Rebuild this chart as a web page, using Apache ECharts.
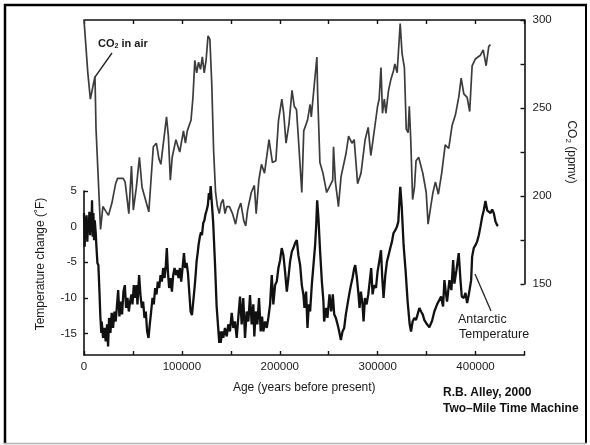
<!DOCTYPE html>
<html>
<head>
<meta charset="utf-8">
<title>Vostok CO2 and temperature</title>
<script src="https://cdn.jsdelivr.net/npm/echarts@6/dist/echarts.min.js"></script>
<style>
  html, body { margin: 0; padding: 0; background: #fff; }
  #chart { width: 590px; height: 445px; }
</style>
</head>
<body>
<div id="chart"></div>
<script>
// age in thousand years before present
const tempAgeKyr = [
  0, 0.7, 1.4, 2.0, 2.7, 3.4, 4.1, 4.8, 5.5, 6.2, 6.8, 7.5, 8.2, 8.9, 9.6, 10.3, 11.0, 12.0, 12.7, 13.7,
  14.7, 15.7, 16.7, 17.7, 18.1, 19.5, 20.8, 22.2, 23.6, 24.6, 25.6, 27.0, 28.3, 29.7, 31.1, 32.4, 34.9, 36.2,
  37.6, 38.9, 40.3, 41.7, 43.0, 44.4, 45.8, 47.1, 48.5, 49.5, 50.9, 52.2, 53.6, 54.6, 56.3, 57.7, 59.1, 60.4,
  61.8, 63.1, 64.5, 65.9, 67.2, 68.6, 70.0, 71.3, 72.7, 74.1, 75.4, 76.8, 78.2, 79.5, 80.9, 82.3, 83.6, 84.6,
  85.7, 87.0, 88.4, 89.8, 91.1, 92.5, 93.9, 95.2, 96.6, 98.0, 99.3, 100.7, 102.1, 103.4, 104.8, 106.2, 107.5,
  108.9, 110.3, 111.6, 113.0, 114.2, 115.0, 116.2, 117.1, 118.4, 119.5, 120.5, 121.8, 123.0, 124.2, 125.3,
  126.5, 127.6, 128.5, 129.4, 130.4, 132.0, 133.8, 135.5, 137.2, 138.2, 138.6, 139.6, 141.2, 142.3, 144.0,
  145.8, 147.4, 149.1, 150.9, 152.5, 154.2, 156.0, 157.6, 159.4, 161.1, 162.7, 164.5, 166.2, 167.9, 169.6,
  171.3, 173.0, 174.0, 175.4, 177.1, 178.8, 180.5, 181.9, 183.2, 185.0, 186.7, 188.3, 190.1, 191.8, 193.4,
  195.2, 196.9, 198.6, 200.3, 202.0, 203.7, 205.4, 207.2, 208.8, 210.5, 212.3, 213.9, 215.7, 217.4, 219.0,
  220.8, 222.5, 224.2, 225.2, 226.9, 228.3, 229.7, 231.0, 232.7, 234.4, 236.1, 237.2, 238.2, 239.5, 241.2,
  243.0, 244.6, 245.3, 247.4, 248.7, 250.8, 252.5, 254.2, 255.6, 257.3, 259.0, 260.7, 262.4, 264.1, 265.8,
  267.5, 269.2, 270.9, 272.7, 274.3, 276.1, 277.1, 278.8, 280.4, 281.5, 282.9, 284.5, 285.6, 287.0, 288.7,
  290.4, 293.4, 294.8, 296.5, 298.3, 299.9, 301.6, 303.4, 304.7, 306.0, 307.8, 309.5, 311.1, 312.9, 314.6,
  316.2, 318.0, 319.7, 321.1, 322.4, 323.1, 324.5, 326.5, 328.6, 330.6, 332.7, 334.1, 335.7, 337.5, 339.2,
  340.8, 342.6, 344.3, 346.0, 347.7, 350.4, 352.8, 355.6, 357.9, 359.0, 360.7, 362.3, 364.8, 366.8, 368.2,
  369.5, 370.9, 373.3, 375.3, 377.1, 378.4, 380.5, 382.8, 384.6, 385.9, 388.0, 389.7, 391.4, 393.0, 395.5,
  396.5, 398.2, 399.9, 401.6, 403.3, 405.0, 406.8, 408.4, 410.1, 411.9, 413.5, 415.3, 417.0, 418.6, 420.4,
  422.1, 423.1
];
// temperature change, degrees F
const tempVal = [
  1.9, -2.8, 1.4, -1.4, 1.6, -2.1, 0.9, -0.5, 2.1, -1.2, 1.2, -0.7, 3.7, -1.4, 1.9, -1.9, 0.9, -0.9, -2.8, -5.1,
  -5.4, -8.8, -12.6, -14.9, -13.3, -15.6, -14.2, -16.1, -13.7, -16.8, -12.8, -14.9, -12.1, -14.2, -11.9, -13.3, -8.9, -12.6,
  -10.5, -12.3, -9.1, -8.2, -11.4, -10.0, -11.9, -10.5, -9.5, -10.9, -8.2, -10.0, -8.2, -10.9, -6.8, -9.6, -11.4, -10.5,
  -12.8, -11.9, -14.7, -15.6, -13.7, -11.9, -10.0, -10.9, -8.6, -9.5, -7.7, -8.6, -6.8, -7.7, -5.8, -7.2, -5.4, -3.0,
  -6.3, -8.6, -7.2, -9.1, -6.8, -5.8, -6.8, -6.1, -7.2, -5.8, -7.7, -5.8, -3.7, -5.8, -5.1, -6.5, -9.1,
  -11.9, -12.4, -10.5, -8.5, -6.5, -4.9, -3.6, -2.5, -1.4, -0.8, -1.2, 0.5, 0.9, 1.8, 2.3,
  3.0, 4.7, 3.8, 5.7, 3.7, 0.5, -5.1, -11.2, -14.4, -16.3, -14.7, -16.3, -14.7, -15.6, -14.2,
  -15.4, -13.7, -14.7, -12.1, -14.2, -13.3, -15.6, -12.8, -9.8, -13.7, -10.0, -15.6, -11.9, -13.3, -9.6,
  -13.7, -10.9, -15.4, -11.9, -13.7, -10.0, -14.7, -12.6, -14.7, -13.3, -14.2, -12.8, -10.9, -6.8, -10.9,
  -8.2, -7.7, -5.8, -4.7, -3.0, -4.0, -6.3, -9.1, -7.2, -4.9, -3.5, -3.0, -2.3, -1.9, -4.0,
  -5.4, -8.2, -9.6, -11.4, -9.1, -14.2, -10.9, -11.9, -8.2, -5.4, -2.6, 0.2, 3.7, 1.2, -3.5,
  -7.7, -10.5, -13.3, -11.4, -12.8, -9.5, -11.9, -9.5, -12.3, -12.8, -13.7, -14.7, -15.9, -14.7, -14.2,
  -12.3, -10.9, -9.5, -8.2, -7.2, -5.8, -5.4, -7.2, -9.5, -11.4, -9.1, -10.9, -13.3, -10.0, -10.9,
  -9.5, -5.8, -9.5, -8.2, -8.6, -6.3, -4.9, -3.3, -7.2, -10.0, -6.8, -4.9, -4.0, -3.0, -2.1,
  -0.9, -0.5, 0.0, 0.7, 4.0, 5.6, 3.0, -2.6, -6.3, -10.5, -13.7, -14.7, -13.3, -12.8, -13.1,
  -12.3, -11.4, -11.9, -12.3, -13.1, -13.7, -14.1, -13.2, -11.9, -11.7, -10.9, -10.7, -9.8, -11.2, -7.5,
  -9.1, -10.5, -7.5, -8.9, -4.7, -8.0, -6.1, -3.7, -7.5, -9.8, -10.0, -9.3, -10.7, -9.6, -7.5,
  -4.2, -3.0, -2.6, -2.1, -1.2, 0.0, 1.4, 2.3, 3.6, 2.3, 2.1, 1.9, 2.4, 1.9, 0.7,
  0.2, 0.1
];

const co2AgeKyr = [
  0, 3.9, 6.5, 11.2, 12.3, 14.2, 16.9, 19.3, 22.7, 25.0, 28.5, 32.3, 34.3, 40.0, 42.0, 45.8, 47.7, 48.5, 50.4,
  53.5, 56.6, 59.3, 66.2, 70.8, 73.9, 76.6, 78.5, 84.3, 86.2, 88.2, 90.1, 93.9, 97.8, 101.6, 103.6, 105.5,
  107.4, 109.3, 111.3, 113.2, 115.1, 117.0, 119.0, 120.9, 122.8, 124.7, 126.7, 128.6, 130.5, 132.4, 134.4,
  136.3, 138.2, 140.1, 142.1, 144.0, 145.9, 148.6, 151.7, 154.8, 157.5, 160.2, 163.2, 165.2, 167.1, 170.9,
  174.0, 175.9, 178.6, 181.3, 184.4, 189.0, 192.5, 196.0, 198.7, 202.1, 204.0, 206.4, 209.4, 212.5, 214.8,
  217.1, 219.1, 222.5, 224.5, 228.3, 231.0, 232.2, 237.9, 238.7, 241.0, 244.1, 247.9, 250.6, 254.1, 254.9,
  256.8, 259.1, 259.9, 262.6, 267.6, 270.3, 273.7, 276.0, 279.5, 283.0, 287.2, 290.3, 293.0, 295.3, 299.9,
  301.5, 303.4, 304.9, 306.8, 308.4, 311.1, 313.4, 316.1, 317.6, 319.9, 323.0, 324.9, 327.3, 329.2, 331.1,
  332.3, 333.8, 335.7, 337.6, 339.2, 341.9, 346.1, 349.6, 351.5, 354.2, 356.5, 359.0, 362.0, 365.4, 369.0,
  372.6, 376.0, 379.4, 382.8, 385.3, 388.0, 391.4, 394.0, 396.5, 400.0, 405.0, 407.8, 410.8, 413.5, 415.2
];
// CO2, ppmv
const co2Val = [
  300, 270, 255, 268, 238, 237, 181, 194, 191, 189, 196, 207, 210, 210, 208, 190, 189, 217, 192,
  205, 222, 205, 191, 228, 230, 221, 218, 245, 234, 209, 222, 232, 225, 237, 230, 237,
  236, 243, 256, 277, 270, 276, 272, 279, 270, 277, 291, 289, 264, 226, 202,
  194, 190, 196, 198, 190, 194, 194, 190, 184, 192, 196, 186, 183, 192, 202,
  206, 190, 209, 218, 213, 232, 219, 220, 243, 255, 247, 230, 241, 260, 251,
  249, 232, 202, 237, 243, 252, 245, 279, 258, 219, 213, 202, 205, 209, 228,
  208, 198, 194, 211, 224, 234, 230, 232, 207, 213, 232, 239, 223, 232, 251,
  255, 273, 247, 255, 247, 260, 266, 271, 275, 270, 298, 281, 273, 238, 236,
  251, 232, 198, 205, 220, 222, 213, 202, 184, 194, 202, 208, 201, 213, 229,
  227, 240, 246, 256, 267, 258, 256, 248, 274, 278, 280, 283, 274, 285, 286
];

const xTicks = [0, 100000, 200000, 300000, 400000];
const tempTicks = [-15, -10, -5, 0, 5];
const co2Labels = [150, 200, 250, 300];

const tempData = tempAgeKyr.map((a, i) => [a * 1000, tempVal[i]]);
const co2Data = co2AgeKyr.map((a, i) => [a * 1000, co2Val[i]]);

const font = '"Liberation Sans", Arial, Helvetica, sans-serif';
const ink = '#1a1a1a';
const axisLine = { show: true, onZero: false, lineStyle: { color: '#111', width: 1.6 } };
const tick = { show: true, inside: true, length: 4, lineStyle: { color: '#111', width: 1.4 } };

const chart = echarts.init(document.getElementById('chart'), null, { renderer: 'canvas' });

chart.setOption({
  animation: false,
  backgroundColor: '#fff',
  textStyle: { fontFamily: font },
  grid: [
    { left: 84, right: 65.5, top: 191, bottom: 90 },
    { left: 84, right: 65.5, top: 20, bottom: 161 }
  ],
  xAxis: [
    {
      gridIndex: 0, type: 'value', min: 0, max: 450000, interval: 50000,
      axisLine: axisLine, axisTick: tick, splitLine: { show: false },
      axisLabel: {
        color: ink, fontSize: 11.5, fontFamily: font, margin: 6,
        formatter: v => xTicks.indexOf(v) >= 0 ? String(v) : ''
      },
      name: 'Age (years before present)', nameLocation: 'middle', nameGap: 27,
      nameTextStyle: { color: ink, fontSize: 12, fontFamily: font }
    },
    {
      gridIndex: 1, type: 'value', position: 'top', min: 0, max: 450000, interval: 50000,
      axisLine: axisLine, axisTick: tick, splitLine: { show: false },
      axisLabel: { show: false }
    }
  ],
  yAxis: [
    {
      gridIndex: 0, type: 'value', position: 'left', min: -18, max: 5,
      axisLine: axisLine,
      axisTick: Object.assign({ customValues: tempTicks }, tick),
      splitLine: { show: false },
      axisLabel: {
        customValues: tempTicks, color: ink, fontSize: 11.5, fontFamily: font, margin: 7,
        formatter: v => tempTicks.indexOf(v) >= 0 ? String(v) : ''
      }
    },
    {
      gridIndex: 1, type: 'value', position: 'right', min: 150, max: 300, interval: 25,
      axisLine: axisLine, axisTick: tick, splitLine: { show: false },
      axisLabel: {
        color: ink, fontSize: 11.5, fontFamily: font, margin: 8,
        formatter: v => co2Labels.indexOf(v) >= 0 ? String(v) : ''
      },
      name: '{t|CO}{s|2}{t| (ppmv)}', nameLocation: 'middle', nameGap: 40, nameRotate: -90,
      nameTextStyle: {
        rich: {
          t: { color: ink, fontSize: 12, fontFamily: font },
          s: { color: ink, fontSize: 8, fontFamily: font, padding: [6, 0, 0, 0] }
        }
      }
    }
  ],
  series: [
    {
      name: 'Antarctic Temperature', type: 'line', xAxisIndex: 0, yAxisIndex: 0,
      data: tempData, showSymbol: false, clip: false,
      lineStyle: { color: '#111', width: 2.3 }
    },
    {
      name: 'CO2 in air', type: 'line', xAxisIndex: 1, yAxisIndex: 1,
      data: co2Data, showSymbol: false, clip: false,
      lineStyle: { color: '#3c3c3c', width: 1.7 }
    }
  ],
  graphic: [
    // frame around the figure
    { type: 'line', shape: { x1: 5, y1: 4, x2: 5, y2: 444 }, style: { stroke: '#000', lineWidth: 2.5 } },
    { type: 'line', shape: { x1: 4, y1: 5, x2: 587, y2: 5 }, style: { stroke: '#000', lineWidth: 2.5 } },
    { type: 'line', shape: { x1: 586, y1: 4, x2: 586, y2: 444 }, style: { stroke: '#000', lineWidth: 2 } },
    { type: 'line', shape: { x1: 4, y1: 443.5, x2: 587, y2: 443.5 }, style: { stroke: '#b5b5b5', lineWidth: 1.5 } },
    {
      type: 'text', x: 41, y: 264, rotation: Math.PI / 2,
      style: {
        text: 'Temperature change (\u02daF)', fill: ink, font: '12px ' + font,
        textAlign: 'center', textVerticalAlign: 'middle'
      }
    },
    {
      type: 'text', x: 98, y: 44,
      style: {
        text: '{b|CO}{s|2}{b| in air}', textVerticalAlign: 'middle',
        rich: {
          b: { fill: ink, fontSize: 11, fontWeight: 'bold', fontFamily: font },
          s: { fill: ink, fontSize: 7, fontWeight: 'bold', fontFamily: font, padding: [5, 0, 0, 0] }
        }
      }
    },
    { type: 'line', shape: { x1: 112, y1: 53, x2: 95, y2: 77 }, style: { stroke: '#222', lineWidth: 1.3 } },
    {
      type: 'text', x: 458, y: 319.5,
      style: { text: 'Antarctic', fill: ink, font: '12.5px ' + font, textVerticalAlign: 'middle' }
    },
    {
      type: 'text', x: 459, y: 335,
      style: { text: 'Temperature', fill: ink, font: '12.5px ' + font, textVerticalAlign: 'middle' }
    },
    { type: 'line', shape: { x1: 475, y1: 274, x2: 491, y2: 311 }, style: { stroke: '#222', lineWidth: 1.3 } },
    {
      type: 'text', x: 443, y: 392.5,
      style: { text: 'R.B. Alley, 2000', fill: '#111', font: 'bold 12px ' + font, textVerticalAlign: 'middle' }
    },
    {
      type: 'text', x: 443, y: 408.5,
      style: { text: 'Two\u2013Mile Time Machine', fill: '#111', font: 'bold 12px ' + font, textVerticalAlign: 'middle' }
    }
  ]
});
</script>
</body>
</html>
